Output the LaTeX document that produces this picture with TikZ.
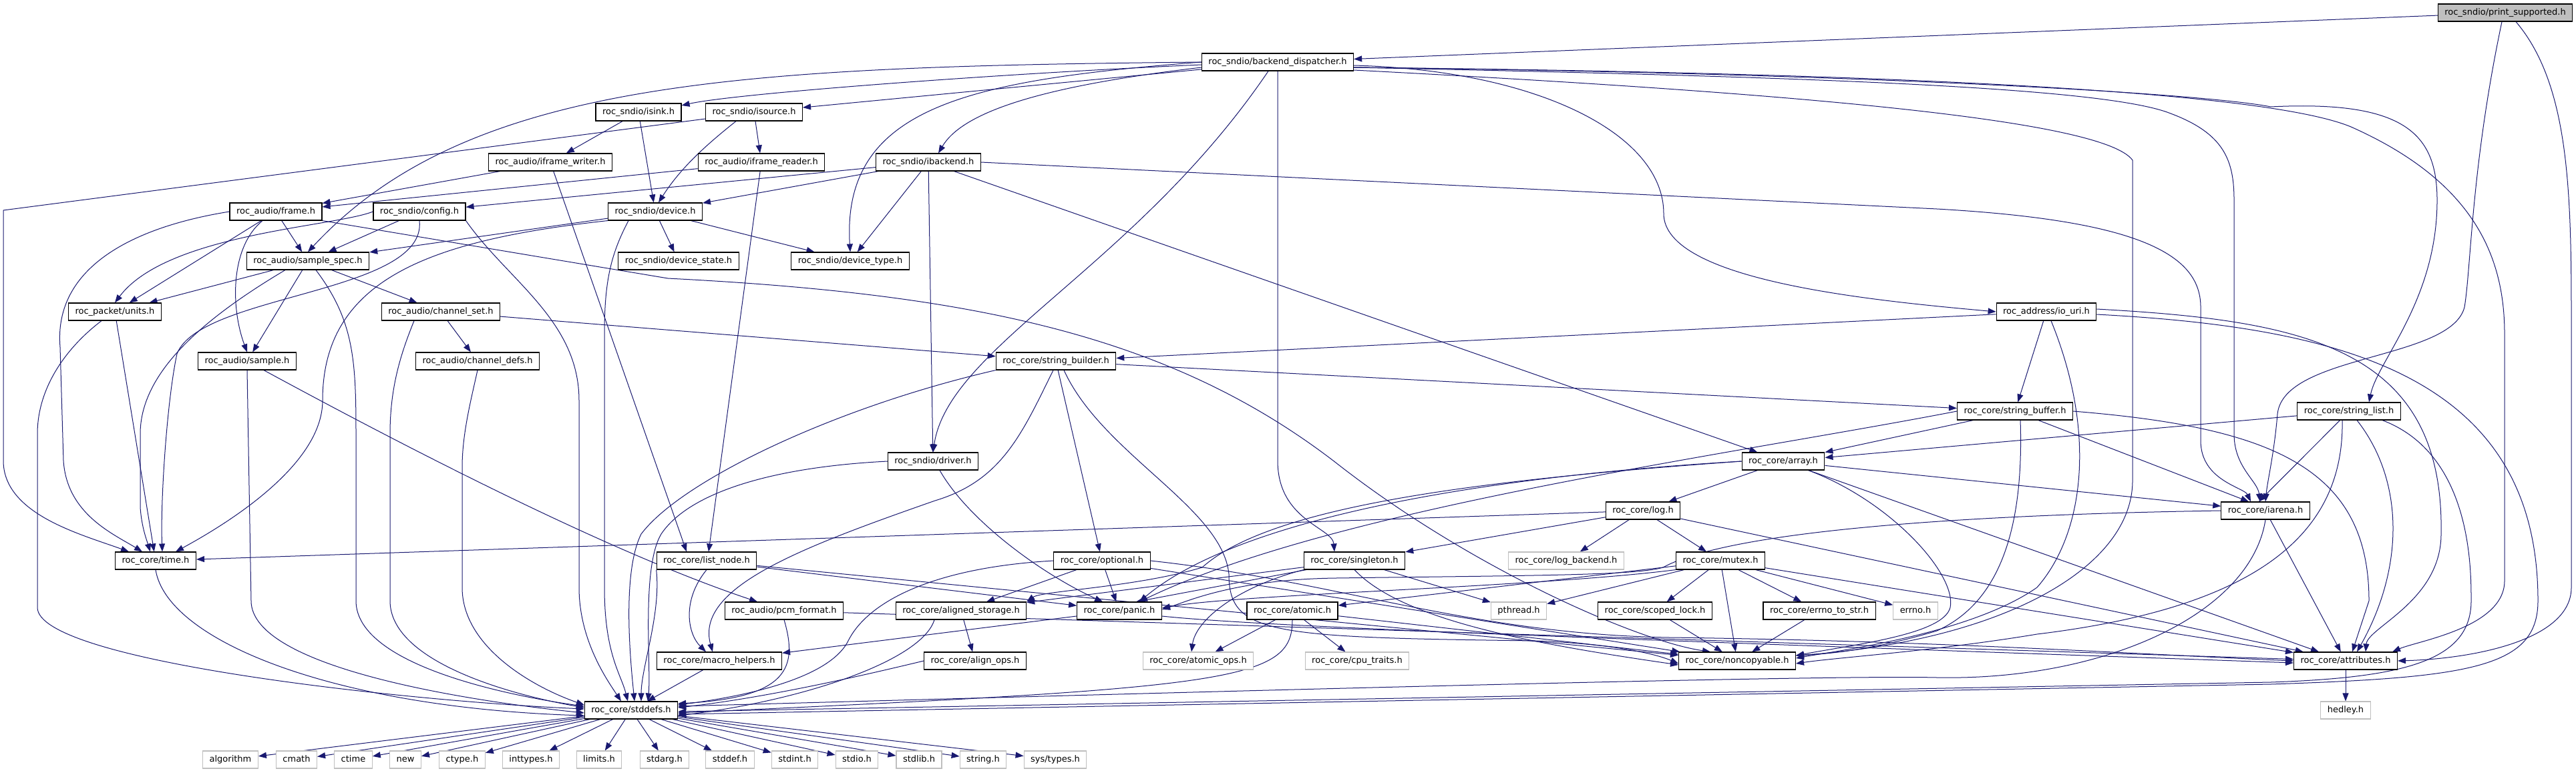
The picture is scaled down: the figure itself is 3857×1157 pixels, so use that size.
\documentclass[tikz,border=0pt]{standalone}
\usepackage{fontspec}
\setmainfont{DejaVu Sans}
\usetikzlibrary{arrows.meta,backgrounds}
\definecolor{edgeblue}{HTML}{191970}
\definecolor{rootgray}{HTML}{BFBFBF}
\definecolor{sysgray}{HTML}{BFBFBF}
\begin{document}
\begin{tikzpicture}[x=1pt,y=-1pt,
  nd/.style={draw=black, line width=1.1pt, fill=white, inner xsep=10pt, inner ysep=0pt,
    minimum height=26pt, font=\fontsize{13}{15}\selectfont, text height=10pt, text depth=3pt},
  sysnd/.style={nd, draw=sysgray},
  rootnd/.style={nd, fill=rootgray},
  dep/.style={draw=edgeblue, line width=1pt, -{Triangle[length=12pt,width=9pt]}},
]
\useasboundingbox (0,0) rectangle (3857,1157);
% ---------------- nodes ----------------
\node[rootnd] (ps) at (3751,19) {roc\_sndio/print\_supported.h};
\node[nd] (bd) at (1913,93) {roc\_sndio/backend\_dispatcher.h};
\node[nd] (isink) at (956,168) {roc\_sndio/isink.h};
\node[nd] (isource) at (1129,168) {roc\_sndio/isource.h};
\node[nd] (ifw) at (824,243) {roc\_audio/iframe\_writer.h};
\node[nd] (ifr) at (1140,243) {roc\_audio/iframe\_reader.h};
\node[nd] (ibk) at (1390,243) {roc\_sndio/ibackend.h};
\node[nd] (frame) at (413,317) {roc\_audio/frame.h};
\node[nd] (config) at (628,317) {roc\_sndio/config.h};
\node[nd] (device) at (981,317) {roc\_sndio/device.h};
\node[nd] (sspec) at (461,391) {roc\_audio/sample\_spec.h};
\node[nd] (dstate) at (1016,391) {roc\_sndio/device\_state.h};
\node[nd] (dtype) at (1273,391) {roc\_sndio/device\_type.h};
\node[nd] (units) at (172,467) {roc\_packet/units.h};
\node[nd] (chset) at (660,467) {roc\_audio/channel\_set.h};
\node[nd] (iouri) at (3064,467) {roc\_address/io\_uri.h};
\node[nd] (sample) at (370,541) {roc\_audio/sample.h};
\node[nd] (chdefs) at (715,541) {roc\_audio/channel\_defs.h};
\node[nd] (sbuild) at (1581,541) {roc\_core/string\_builder.h};
\node[nd] (sbuf) at (3017,616) {roc\_core/string\_buffer.h};
\node[nd] (slist) at (3517,616) {roc\_core/string\_list.h};
\node[nd] (driver) at (1397,691) {roc\_sndio/driver.h};
\node[nd] (array) at (2670,691) {roc\_core/array.h};
\node[nd] (log) at (2460,765) {roc\_core/log.h};
\node[nd] (iarena) at (3392,765) {roc\_core/iarena.h};
\node[nd] (time) at (233,840) {roc\_core/time.h};
\node[nd] (lnode) at (1058,840) {roc\_core/list\_node.h};
\node[nd] (optional) at (1650,840) {roc\_core/optional.h};
\node[nd] (singleton) at (2028,840) {roc\_core/singleton.h};
\node[sysnd] (logbk) at (2345,840) {roc\_core/log\_backend.h};
\node[nd] (mutex) at (2576,840) {roc\_core/mutex.h};
\node[nd] (pcm) at (1174,915) {roc\_audio/pcm\_format.h};
\node[nd] (astor) at (1439,915) {roc\_core/aligned\_storage.h};
\node[nd] (panic) at (1676,915) {roc\_core/panic.h};
\node[nd] (atomic) at (1935,915) {roc\_core/atomic.h};
\node[sysnd] (pthread) at (2274,915) {pthread.h};
\node[nd] (slock) at (2478,915) {roc\_core/scoped\_lock.h};
\node[nd] (ets) at (2724,915) {roc\_core/errno\_to\_str.h};
\node[sysnd] (errno) at (2868,915) {errno.h};
\node[nd] (macro) at (1077,990) {roc\_core/macro\_helpers.h};
\node[nd] (alops) at (1460,990) {roc\_core/align\_ops.h};
\node[sysnd] (atops) at (1794,990) {roc\_core/atomic\_ops.h};
\node[sysnd] (cput) at (2032,990) {roc\_core/cpu\_traits.h};
\node[nd] (noncp) at (2601,990) {roc\_core/noncopyable.h};
\node[nd] (attr) at (3512,990) {roc\_core/attributes.h};
\node[nd] (stddefs) at (945,1064) {roc\_core/stddefs.h};
\node[sysnd] (hedley) at (3512,1064) {hedley.h};
\node[sysnd] (ha) at (345,1138) {algorithm};
\node[sysnd] (hb) at (444,1138) {cmath};
\node[sysnd] (hc) at (529,1138) {ctime};
\node[sysnd] (hd) at (607,1138) {new};
\node[sysnd] (he) at (692,1138) {ctype.h};
\node[sysnd] (hf) at (795,1138) {inttypes.h};
\node[sysnd] (hg) at (897,1138) {limits.h};
\node[sysnd] (hh) at (995,1138) {stdarg.h};
\node[sysnd] (hi) at (1093,1138) {stddef.h};
\node[sysnd] (hj) at (1190,1138) {stdint.h};
\node[sysnd] (hk) at (1283,1138) {stdio.h};
\node[sysnd] (hl) at (1376,1138) {stdlib.h};
\node[sysnd] (hm) at (1472,1138) {string.h};
\node[sysnd] (hn) at (1580,1138) {sys/types.h};
% ---------------- edges ----------------
\begin{pgfonlayer}{background}
\fill[white] (0,0) rectangle (3857,1157);
% print_supported
\draw[dep] (ps) -- (bd);
\draw[dep] ([xshift=-5pt]ps.south) .. controls (3700,250) and (3700,400) .. (3690,460) .. controls (3670,540) and (3420,530) .. (3410,620) .. controls (3405,680) and (3395,720) .. (iarena.north);
\draw[dep] ([xshift=16pt]ps.south) .. controls (3850,130) and (3850,300) .. (3850,500) -- (3850,880) .. controls (3850,960) and (3700,987) .. (attr.east);
% backend_dispatcher
\draw[dep] ([yshift=-4pt]bd.west) .. controls (1500,110) and (1100,140) .. ([yshift=10pt]isink.east);
\draw[dep] (bd) -- (isource);
\draw[dep] (bd.west) .. controls (1100,100) and (700,120) .. (sspec.north);
\draw[dep] (bd.west) .. controls (1450,120) and (1260,160) .. (dtype.north);
\draw[dep] ([yshift=-8pt]bd.west) .. controls (1550,130) and (1440,170) .. ([xshift=15pt]ibk.north);
\draw[dep] ([xshift=-14pt]bd.south) .. controls (1700,400) and (1420,520) .. (driver.north);
\draw[dep] (bd.south) -- (1913,690) .. controls (1913,780) and (1995,790) .. ([xshift=-30pt]singleton.north);
\draw[dep] ([yshift=-5pt]bd.east) .. controls (2300,105) and (2491,200) .. (2491,320) .. controls (2491,420) and (2800,450) .. (iouri.west);
\draw[dep] ([yshift=-8pt]bd.east) .. controls (2800,110) and (3300,140) .. (3400,160) .. controls (3600,150) and (3649,200) .. (3649,300) .. controls (3649,450) and (3560,540) .. ([xshift=30pt]slist.north);
\draw[dep] ([yshift=-8pt]bd.east) .. controls (2700,115) and (3150,130) .. (3250,170) .. controls (3330,200) and (3345,240) .. (3345,300) -- (3345,650) .. controls (3345,700) and (3380,720) .. ([xshift=-8pt]iarena.north);
\draw[dep] ([yshift=-8pt]bd.east) .. controls (2900,110) and (3400,140) .. (3520,190) .. controls (3700,270) and (3750,380) .. (3750,500) -- (3750,870) .. controls (3750,940) and (3620,960) .. ([xshift=70pt]attr.north);
\draw[dep] ([yshift=-12pt]bd.east) .. controls (2700,140) and (3150,180) .. (3193,240) -- (3193,720) .. controls (3193,850) and (3000,960) .. ([yshift=8pt]noncp.east);
% isink / isource
\draw[dep] (isink) -- (ifw);
\draw[dep] (isink) -- (device);
\draw[dep] (isource) -- (ifr);
\draw[dep] ([xshift=-27pt]isource.south) .. controls (1060,215) and (1020,250) .. ([xshift=5pt]device.north);
\draw[dep] ([yshift=-10pt]isource.west) -- (5,315) -- (5,690) .. controls (5,770) and (120,800) .. ([xshift=-40pt]time.north);
% iframe writer / reader
\draw[dep] (ifw) -- (frame);
\draw[dep] (ifw) -- ([xshift=-30pt]lnode.north);
\draw[dep] (ifr) -- (frame);
\draw[dep] (ifr) -- ([xshift=3pt]lnode.north);
% ibackend
\draw[dep] (ibk) -- (config);
\draw[dep] (ibk) -- (device);
\draw[dep] (ibk) -- (dtype);
\draw[dep] (ibk) -- (driver);
\draw[dep] (ibk) -- (array);
\draw[dep] (ibk.east) -- (2900,313) .. controls (3200,330) and (3295,380) .. (3295,460) -- (3295,660) .. controls (3295,720) and (3360,730) .. ([xshift=-22pt]iarena.north);
% frame
\draw[dep] (frame) -- (sspec);
\draw[dep] ([xshift=-20pt]frame.south) .. controls (345,370) and (345,460) .. (sample.north);
\draw[dep] (frame) -- (units);
\draw[dep] (frame.west) .. controls (200,340) and (80,400) .. (90,520) -- (95,690) .. controls (100,770) and (170,800) .. ([xshift=-20pt]time.north);
\draw[dep] (frame.south east) -- (1000,417) .. controls (1450,440) and (1750,500) .. (2000,693) .. controls (2200,850) and (2450,960) .. ([xshift=-40pt]noncp.north);
% config
\draw[dep] (config) -- (sspec);
\draw[dep] (config.west) .. controls (500,340) and (250,350) .. (units.north);
\draw[dep] (config.south) .. controls (640,440) and (300,440) .. (265,530) .. controls (250,600) and (240,750) .. ([xshift=10pt]time.north);
\draw[dep] (config.south east) .. controls (760,420) and (867,480) .. (867,600) -- (867,880) .. controls (867,960) and (910,1020) .. ([xshift=-15pt]stddefs.north);
% device
\draw[dep] (device) -- (sspec);
\draw[dep] (device) -- (dstate);
\draw[dep] (device) -- (dtype);
\draw[dep] (device.south west) .. controls (640,360) and (483,420) .. (483,600) .. controls (483,700) and (330,790) .. ([xshift=30pt]time.north);
\draw[dep] ([xshift=-40pt]device.south) .. controls (915,380) and (905,420) .. (905,500) -- (905,880) .. controls (905,980) and (930,1010) .. ([xshift=-5pt]stddefs.north);
% sample_spec
\draw[dep] (sspec) -- (units);
\draw[dep] (sspec) -- (chset);
\draw[dep] (sspec) -- (sample);
\draw[dep] ([xshift=-34pt]sspec.south) .. controls (300,480) and (210,560) .. (210,650) -- (210,760) .. controls (212,790) and (220,810) .. ([xshift=-8pt]time.north);
\draw[dep] ([xshift=12pt]sspec.south) .. controls (530,480) and (533,540) .. (533,650) -- (533,900) .. controls (533,1000) and (780,1045) .. ([yshift=6pt]stddefs.west);
% units
\draw[dep] (units) -- (time);
\draw[dep] ([xshift=-20pt]units.south) .. controls (100,520) and (56,580) .. (56,650) -- (56,910) .. controls (56,990) and (600,1050) .. ([yshift=2pt]stddefs.west);
% channel_set / channel_defs / sample
\draw[dep] (chset) -- (chdefs);
\draw[dep] (chset) -- (sbuild);
\draw[dep] ([xshift=-40pt]chset.south) .. controls (600,530) and (584,580) .. (584,650) -- (584,900) .. controls (584,990) and (760,1040) .. ([yshift=4pt]stddefs.west);
\draw[dep] (sample.south) -- (376,900) .. controls (376,1000) and (700,1050) .. ([yshift=-4pt]stddefs.west);
\draw[dep] (sample) .. controls (700,720) and (950,840) .. ([xshift=-40pt]pcm.north);
\draw[dep] (chdefs.south) .. controls (705,600) and (692,650) .. (692,700) -- (692,880) .. controls (692,970) and (800,1030) .. ([yshift=8pt]stddefs.west);
% string_builder
\draw[dep] (sbuild) -- (sbuf);
\draw[dep] (sbuild.south west) .. controls (1250,610) and (1020,720) .. (960,800) .. controls (930,860) and (945,1000) .. ([xshift=5pt]stddefs.north);
\draw[dep] ([xshift=-4pt]sbuild.south) .. controls (1530,650) and (1500,720) .. (1400,750) .. controls (1200,820) and (1040,880) .. ([xshift=-10pt]macro.north);
\draw[dep] (sbuild) -- (optional);
\draw[dep] ([xshift=12pt]sbuild.south) .. controls (1650,680) and (1830,760) .. (1840,860) .. controls (1840,950) and (1900,955) .. (2300,960) .. controls (2420,965) and (2480,980) .. ([yshift=-4pt]noncp.west);
% io_uri
\draw[dep] (iouri) -- (sbuild);
\draw[dep] (iouri) -- (sbuf);
\draw[dep] ([xshift=7pt]iouri.south) .. controls (3140,650) and (3120,800) .. (3050,880) .. controls (2950,950) and (2750,975) .. ([yshift=4pt]noncp.east);
\draw[dep] ([yshift=4pt]iouri.east) .. controls (3450,480) and (3660,520) .. (3655,800) .. controls (3655,900) and (3545,940) .. ([xshift=30pt]attr.north);
\draw[dep] ([yshift=-4pt]iouri.east) .. controls (3500,490) and (3800,560) .. (3800,900) .. controls (3800,1000) and (3700,1015) .. (3400,1025) -- ([yshift=-6pt]stddefs.east);
% string_buffer
\draw[dep] (sbuf) -- (array);
\draw[dep] (sbuf) -- ([xshift=-25pt]iarena.north);
\draw[dep] ([xshift=8pt]sbuf.south) .. controls (3030,780) and (3000,900) .. (2900,945) .. controls (2800,975) and (2730,980) .. ([yshift=8pt]noncp.east);
\draw[dep] (sbuf.east) .. controls (3400,640) and (3547,700) .. (3547,900) -- ([xshift=10pt]attr.north);
\draw[dep] (sbuf.west) .. controls (2600,680) and (2000,760) .. ([xshift=30pt]panic.north);
% string_list
\draw[dep] (slist) -- (array);
\draw[dep] (slist) -- ([xshift=-10pt]iarena.north);
\draw[dep] ([xshift=-10pt]slist.south) .. controls (3510,800) and (3380,910) .. (3050,950) .. controls (2900,975) and (2750,985) .. ([yshift=-4pt]noncp.east);
\draw[dep] ([xshift=12pt]slist.south) .. controls (3600,720) and (3600,850) .. ([xshift=17pt]attr.north);
\draw[dep] ([xshift=50pt]slist.south) .. controls (3700,680) and (3700,850) .. (3700,900) .. controls (3700,990) and (3600,1015) .. (3400,1022) -- ([yshift=-2pt]stddefs.east);
% driver
\draw[dep] (driver.west) .. controls (1150,700) and (1030,740) .. (990,800) .. controls (960,850) and (975,1000) .. ([xshift=25pt]stddefs.north);
\draw[dep] ([xshift=10pt]driver.south) .. controls (1450,780) and (1560,860) .. ([xshift=-25pt]panic.north);
% array
\draw[dep] (array) -- (log);
\draw[dep] (array) -- (iarena);
\draw[dep] ([xshift=-25pt]array.south east) .. controls (2830,750) and (2930,860) .. (2920,910) .. controls (2910,950) and (2780,965) .. ([yshift=8pt]noncp.east);
\draw[dep] (array) -- ([xshift=-40pt]attr.north);
\draw[dep] (array.west) .. controls (2200,720) and (1900,760) .. (1800,850) .. controls (1700,880) and (1560,885) .. (astor.north east);
\draw[dep] (array.west) .. controls (2200,715) and (1850,780) .. ([xshift=30pt]panic.north);
% log
\draw[dep] (log) -- (time);
\draw[dep] (log) -- (logbk);
\draw[dep] (log) -- (mutex);
\draw[dep] (log) -- (singleton);
\draw[dep] (log) -- (attr);
% iarena
\draw[dep] (iarena) -- (attr);
\draw[dep] (iarena.south) .. controls (3370,920) and (3150,1020) .. (2900,1015) .. controls (2700,1010) and (1500,1045) .. ([yshift=6pt]stddefs.east);
\draw[dep] (iarena.west) .. controls (3000,770) and (2600,790) .. (2490,850) .. controls (2450,862) and (2300,862) .. (2000,866) .. controls (1850,868) and (1780,900) .. ([yshift=2pt]panic.east);
% mutex
\draw[dep] (mutex) -- (pthread);
\draw[dep] (mutex) -- (slock);
\draw[dep] (mutex) -- (ets);
\draw[dep] (mutex) -- (errno);
\draw[dep] (mutex) -- (noncp);
\draw[dep] (mutex) -- (atomic);
\draw[dep] (mutex) -- (attr);
\draw[dep] (mutex.south west) .. controls (2300,880) and (1850,890) .. ([yshift=4pt]panic.east);
% singleton
\draw[dep] (singleton) -- (astor);
\draw[dep] (singleton) -- ([xshift=25pt]panic.north);
\draw[dep] (singleton.south west) .. controls (1850,880) and (1790,930) .. ([xshift=-10pt]atops.north);
\draw[dep] (singleton) -- (pthread);
\draw[dep] (singleton.south) .. controls (2100,930) and (2300,965) .. ([yshift=-6pt]noncp.west);
% optional
\draw[dep] (optional) -- (astor);
\draw[dep] (optional) -- (panic);
\draw[dep] (optional.west) .. controls (1400,850) and (1300,900) .. (1270,960) .. controls (1240,1020) and (1100,1045) .. ([yshift=8pt]stddefs.east);
\draw[dep] (optional) -- (noncp);
\draw[dep] (optional.east) .. controls (2000,870) and (2200,950) .. (2500,955) .. controls (2900,960) and (3200,980) .. (attr.west);
% list_node
\draw[dep] (lnode.south) .. controls (1020,900) and (1030,950) .. ([xshift=-20pt]macro.north);
\draw[dep] (lnode.south west) .. controls (990,920) and (960,1000) .. ([xshift=15pt]stddefs.north);
\draw[dep] (lnode) -- (panic);
\draw[dep] (lnode) -- (noncp);
% pcm / aligned / panic / atomic
\draw[dep] (pcm.south) .. controls (1195,1000) and (1180,1045) .. ([yshift=10pt]stddefs.east);
\draw[dep] (pcm) -- (attr);
\draw[dep] (astor) -- (alops);
\draw[dep] ([xshift=-40pt]astor.south) .. controls (1380,990) and (1200,1050) .. ([yshift=-8pt]stddefs.east);
\draw[dep] (panic) -- (macro);
\draw[dep] ([yshift=-8pt]panic.east) .. controls (1900,940) and (2500,960) .. ([yshift=-3pt]attr.west);
\draw[dep] (atomic) -- (atops);
\draw[dep] (atomic) -- (cput);
\draw[dep] (atomic.south) .. controls (1935,1020) and (1850,1030) .. ([yshift=-4pt]stddefs.east);
\draw[dep] (atomic) -- (noncp);
% leaves
\draw[dep] (slock) -- (noncp);
\draw[dep] (ets) -- (noncp);
\draw[dep] (macro) -- (stddefs);
\draw[dep] (alops.west) .. controls (1300,1010) and (1150,1045) .. ([yshift=4pt]stddefs.east);
\draw[dep] (attr) -- (hedley);
\draw[dep] (time.south) .. controls (250,960) and (500,1060) .. ([yshift=-8pt]stddefs.west);
% stddefs -> system headers
\draw[dep] (stddefs) -- (ha);
\draw[dep] (stddefs) -- (hb);
\draw[dep] (stddefs) -- (hc);
\draw[dep] (stddefs) -- (hd);
\draw[dep] (stddefs) -- (he);
\draw[dep] (stddefs) -- (hf);
\draw[dep] (stddefs) -- (hg);
\draw[dep] (stddefs) -- (hh);
\draw[dep] (stddefs) -- (hi);
\draw[dep] (stddefs) -- (hj);
\draw[dep] (stddefs) -- (hk);
\draw[dep] (stddefs) -- (hl);
\draw[dep] (stddefs) -- (hm);
\draw[dep] (stddefs) -- (hn);
\end{pgfonlayer}
\end{tikzpicture}
\end{document}
